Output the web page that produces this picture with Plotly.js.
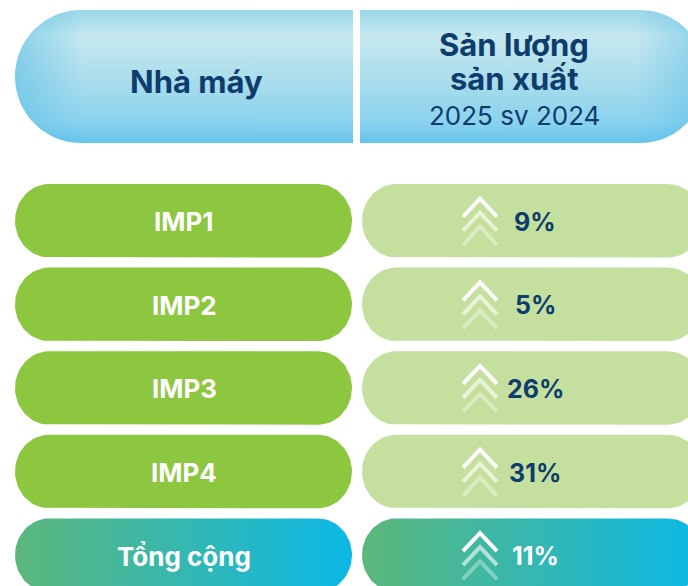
<!DOCTYPE html>
<html>
<head>
<meta charset="utf-8">
<script src="https://cdn.plot.ly/plotly-3.0.1.min.js"></script>
<style>html,body{margin:0;padding:0;background:#fff;}#chart{width:688px;height:586px;}</style>
</head>
<body>
<div id="chart"></div>
<script>
// ---- data ----
const headerLeft = 'Nhà máy';
const headerRightLines = ['Sản lượng', 'sản xuất'];
const headerRightSub = '2025 sv 2024';
const plants = ['IMP1', 'IMP2', 'IMP3', 'IMP4', 'Tổng cộng'];
const growthPct = [9, 5, 26, 31, 11];
const isTotal = [false, false, false, false, true];

// ---- drawing helpers ----
function pill(x0, x1, y0, y1, roundL, roundR, rx) {
  const ry = (y1 - y0) / 2, cy = (y0 + y1) / 2;
  const xs = [], ys = [];
  const N = 40;
  if (roundR) {
    for (let i = 0; i <= N; i++) {
      const a = -Math.PI / 2 + Math.PI * i / N;
      xs.push(x1 - rx + rx * Math.cos(a)); ys.push(cy + ry * Math.sin(a));
    }
  } else { xs.push(x1, x1); ys.push(y0, y1); }
  if (roundL) {
    for (let i = 0; i <= N; i++) {
      const a = Math.PI / 2 + Math.PI * i / N;
      xs.push(x0 + rx + rx * Math.cos(a)); ys.push(cy + ry * Math.sin(a));
    }
  } else { xs.push(x0, x0); ys.push(y1, y0); }
  xs.push(xs[0]); ys.push(ys[0]);
  return {xs, ys};
}
function fillTrace(p, fill) {
  const t = {x: p.xs, y: p.ys, type: 'scatter', mode: 'lines', fill: 'toself',
    line: {width: 0, color: 'rgba(0,0,0,0)'}, hoverinfo: 'skip', showlegend: false};
  if (typeof fill === 'string') t.fillcolor = fill; else t.fillgradient = fill;
  return t;
}

const traces = [];
const annotations = [];
const navy = '#0e3c6c';
const FONT = 'Inter, Roboto, "Noto Sans", sans-serif';

// header
const hY0 = 10, hY1 = 143;
const hdrV = [[0, '#9ad7e8'], [0.2, '#c6e8ef'], [0.55, '#a8dcec'], [0.85, '#8ad2ee'], [1, '#63c4eb']];
const hl = pill(15, 353, hY0, hY1, true, false, 66);
const hr = pill(360, 706, hY0, hY1, false, true, 66);
traces.push(fillTrace(hl, {type: 'vertical', colorscale: hdrV, start: hY0, stop: hY1}));
traces.push(fillTrace(hl, {type: 'horizontal', colorscale: [[0, 'rgba(95,192,230,0.6)'], [0.2, 'rgba(95,192,230,0)'], [1, 'rgba(95,192,230,0)']], start: 15, stop: 353}));
traces.push(fillTrace(hr, {type: 'vertical', colorscale: hdrV, start: hY0, stop: hY1}));
traces.push(fillTrace(hr, {type: 'horizontal', colorscale: [[0, 'rgba(95,192,230,0)'], [0.8, 'rgba(95,192,230,0)'], [1, 'rgba(95,192,230,0.6)']], start: 360, stop: 706}));

annotations.push({x: 196, y: 81, text: '<b>' + headerLeft + '</b>', showarrow: false,
  font: {family: FONT, size: 31, color: navy}, xanchor: 'center', yanchor: 'middle'});
annotations.push({x: 514, y: 44, text: '<b>' + headerRightLines[0] + '</b>', showarrow: false,
  font: {family: FONT, size: 31, color: navy}, xanchor: 'center', yanchor: 'middle'});
annotations.push({x: 514, y: 78, text: '<b>' + headerRightLines[1] + '</b>', showarrow: false,
  font: {family: FONT, size: 31, color: navy}, xanchor: 'center', yanchor: 'middle'});
annotations.push({x: 514, y: 115, text: headerRightSub, showarrow: false,
  font: {family: FONT, size: 26, color: navy}, xanchor: 'center', yanchor: 'middle'});

// rows
const rowTop0 = 184, rowStep = 83.6, rowH = 73.5;
plants.forEach((name, i) => {
  const y0 = rowTop0 + i * rowStep, y1 = y0 + rowH, cy = (y0 + y1) / 2;
  const L = pill(15, 352, y0, y1, true, true, 34);
  const R = pill(362, 702, y0, y1, true, true, 34);
  if (isTotal[i]) {
    traces.push(fillTrace(L, {type: 'horizontal', colorscale: [[0, '#5db77b'], [1, '#0bb8e6']], start: 15, stop: 352}));
    traces.push(fillTrace(R, {type: 'horizontal', colorscale: [[0, '#5db77b'], [1, '#0bb8e6']], start: 362, stop: 702}));
  } else {
    traces.push(fillTrace(L, '#8dc63f'));
    traces.push(fillTrace(R, '#c5e09e'));
  }
  // chevrons (up arrows)
  const cx = 480, hw = 17, ch = 18, gap = 14;
  const ops = [1, 0.6, 0.35];
  for (let k = 0; k < 3; k++) {
    const apex = cy - 22 + k * gap;
    traces.push({x: [cx - hw, cx, cx + hw], y: [apex + ch, apex, apex + ch], type: 'scatter', mode: 'lines',
      line: {color: 'rgba(255,255,255,' + ops[k] + ')', width: 4}, hoverinfo: 'skip', showlegend: false});
  }
  annotations.push({x: 184, y: cy + 1, text: '<b>' + name + '</b>', showarrow: false,
    font: {family: FONT, size: 26, color: '#ffffff'}, xanchor: 'center', yanchor: 'middle'});
  annotations.push({x: 535, y: cy + 1, text: '<b>' + growthPct[i] + '%</b>', showarrow: false,
    font: {family: FONT, size: 25, color: isTotal[i] ? '#ffffff' : navy}, xanchor: 'center', yanchor: 'middle'});
});

const layout = {
  width: 688, height: 586,
  margin: {l: 0, r: 0, t: 0, b: 0, pad: 0},
  paper_bgcolor: '#ffffff', plot_bgcolor: '#ffffff',
  xaxis: {range: [0, 688], visible: false, fixedrange: true},
  yaxis: {range: [586, 0], visible: false, fixedrange: true},
  showlegend: false,
  annotations: annotations
};
Plotly.newPlot('chart', traces, layout, {staticPlot: true, displayModeBar: false});
</script>
</body>
</html>
